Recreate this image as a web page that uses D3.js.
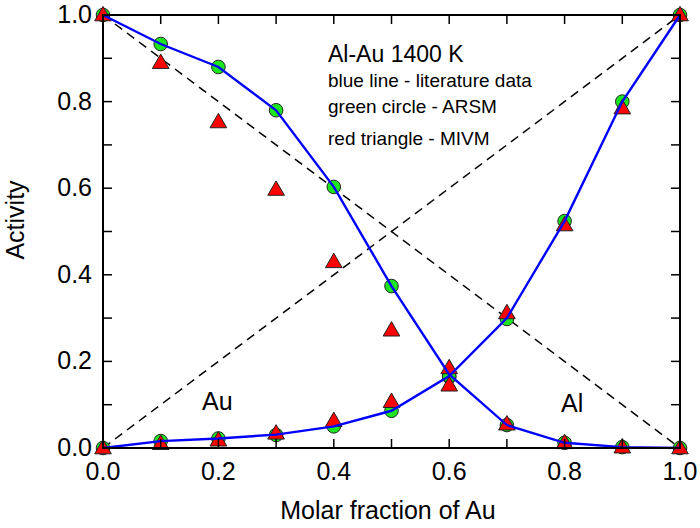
<!DOCTYPE html>
<html>
<head>
<meta charset="utf-8">
<script src="https://cdn.jsdelivr.net/npm/d3@7"></script>
<style>
  body { margin: 0; background: #fff; }
  svg { font-family: Arial, "Liberation Sans", sans-serif; }
</style>
</head>
<body>
<div id="chart"></div>
<script>
// mole fraction of Au
var xFrac = [0, 0.1, 0.2, 0.3, 0.4, 0.5, 0.6, 0.7, 0.8, 0.9, 1.0];

// literature data (blue line)
var litAl = [1.0, 0.933, 0.880, 0.780, 0.603, 0.374, 0.170, 0.053, 0.012, 0.002, 0];
var litAu = [0, 0.016, 0.022, 0.031, 0.050, 0.086, 0.166, 0.300, 0.524, 0.800, 1.0];

// ARSM (green circles)
var arsmAl = [1.0, 0.933, 0.880, 0.780, 0.603, 0.374, 0.164, 0.053, 0.012, 0.002, 0];
var arsmAu = [0, 0.016, 0.022, 0.030, 0.050, 0.086, 0.166, 0.298, 0.524, 0.800, 1.0];

// MIVM (red triangles)
var mivmAl = [1.0, 0.890, 0.753, 0.597, 0.430, 0.272, 0.145, 0.055, 0.012, 0.002, 0];
var mivmAu = [0, 0.010, 0.018, 0.034, 0.063, 0.107, 0.185, 0.312, 0.515, 0.785, 1.0];

// Raoult's law
var raoultX = [0, 1];
var raoultAl = [1, 0];
var raoultAu = [0, 1];

var xTicks = [0, 0.2, 0.4, 0.6, 0.8, 1.0];
var yTicks = [0, 0.2, 0.4, 0.6, 0.8, 1.0];
var minorTicks = d3.range(0, 1.0001, 0.1);

var W = 700, H = 528;

var svg = d3.select("#chart").append("svg")
  .attr("width", W).attr("height", H);

var x = d3.scaleLinear().domain([0, 1]).range([103, 680]);
var y = d3.scaleLinear().domain([0, 1]).range([448, 15]);

var line = d3.line()
  .x(function(d){ return x(d[0]); })
  .y(function(d){ return y(d[1]); });

var zip = function(xs, ys) {
  return xs.map(function(v, i){ return [v, ys[i]]; });
};

// dashed ideal lines
[raoultAl, raoultAu].forEach(function(s){
  svg.append("path")
    .attr("d", line(zip(raoultX, s)))
    .attr("fill", "none")
    .attr("stroke", "#000")
    .attr("stroke-width", 1.5)
    .attr("stroke-dasharray", "9,6");
});

// green circles
[arsmAl, arsmAu].forEach(function(s){
  svg.append("g").selectAll("circle")
    .data(zip(xFrac, s))
    .enter()
    .append("circle")
    .attr("cx", function(d){ return x(d[0]); })
    .attr("cy", function(d){ return y(d[1]); })
    .attr("r", 6.8)
    .attr("fill", "#1ee61e")
    .attr("stroke", "#222")
    .attr("stroke-width", 1);
});

// red triangles
var tri = d3.symbol().type(d3.symbolTriangle).size(120);
[mivmAl, mivmAu].forEach(function(s){
  svg.append("g").selectAll("path")
    .data(zip(xFrac, s))
    .enter()
    .append("path")
    .attr("d", tri)
    .attr("transform", function(d){ return "translate(" + x(d[0]) + "," + (y(d[1]) + 1) + ")"; })
    .attr("fill", "#ff0000")
    .attr("stroke", "#222")
    .attr("stroke-width", 1);
});

// blue literature lines
[litAl, litAu].forEach(function(s){
  svg.append("path")
    .attr("d", line(zip(xFrac, s)))
    .attr("fill", "none")
    .attr("stroke", "#0000ff")
    .attr("stroke-width", 2.4);
});

// frame
svg.append("rect")
  .attr("x", x(0)).attr("y", y(1))
  .attr("width", x(1) - x(0)).attr("height", y(0) - y(1))
  .attr("fill", "none")
  .attr("stroke", "#000")
  .attr("stroke-width", 2);

// inward ticks on all four sides
var tl = 9;
var tg = svg.append("g").attr("stroke", "#000").attr("stroke-width", 1.5);
minorTicks.forEach(function(t){
  tg.append("line").attr("x1", x(t)).attr("x2", x(t)).attr("y1", y(0)).attr("y2", y(0) - tl);
  tg.append("line").attr("x1", x(t)).attr("x2", x(t)).attr("y1", y(1)).attr("y2", y(1) + tl);
  tg.append("line").attr("x1", x(0)).attr("x2", x(0) + tl).attr("y1", y(t)).attr("y2", y(t));
  tg.append("line").attr("x1", x(1)).attr("x2", x(1) - tl).attr("y1", y(t)).attr("y2", y(t));
});

// tick labels
svg.append("g").selectAll("text")
  .data(xTicks).enter().append("text")
  .attr("x", function(d){ return x(d); })
  .attr("y", 480)
  .attr("text-anchor", "middle")
  .attr("font-size", 25)
  .text(function(d){ return d.toFixed(1); });

svg.append("g").selectAll("text")
  .data(yTicks).enter().append("text")
  .attr("x", 92)
  .attr("y", function(d){ return y(d) + 8; })
  .attr("text-anchor", "end")
  .attr("font-size", 25)
  .text(function(d){ return d.toFixed(1); });

// axis titles
svg.append("text")
  .attr("x", 388).attr("y", 519)
  .attr("text-anchor", "middle")
  .attr("font-size", 25)
  .text("Molar fraction of Au");

svg.append("text")
  .attr("transform", "translate(24,220) rotate(-90)")
  .attr("text-anchor", "middle")
  .attr("font-size", 25)
  .text("Activity");

// annotations
svg.append("text").attr("x", 328).attr("y", 62).attr("font-size", 23).text("Al-Au 1400 K");
svg.append("text").attr("x", 328).attr("y", 87).attr("font-size", 19).text("blue line - literature data");
svg.append("text").attr("x", 328).attr("y", 113).attr("font-size", 19).text("green circle - ARSM");
svg.append("text").attr("x", 328).attr("y", 145).attr("font-size", 19).text("red triangle - MIVM");
svg.append("text").attr("x", 202).attr("y", 410).attr("font-size", 25).text("Au");
svg.append("text").attr("x", 561).attr("y", 412).attr("font-size", 25).text("Al");
</script>
</body>
</html>
